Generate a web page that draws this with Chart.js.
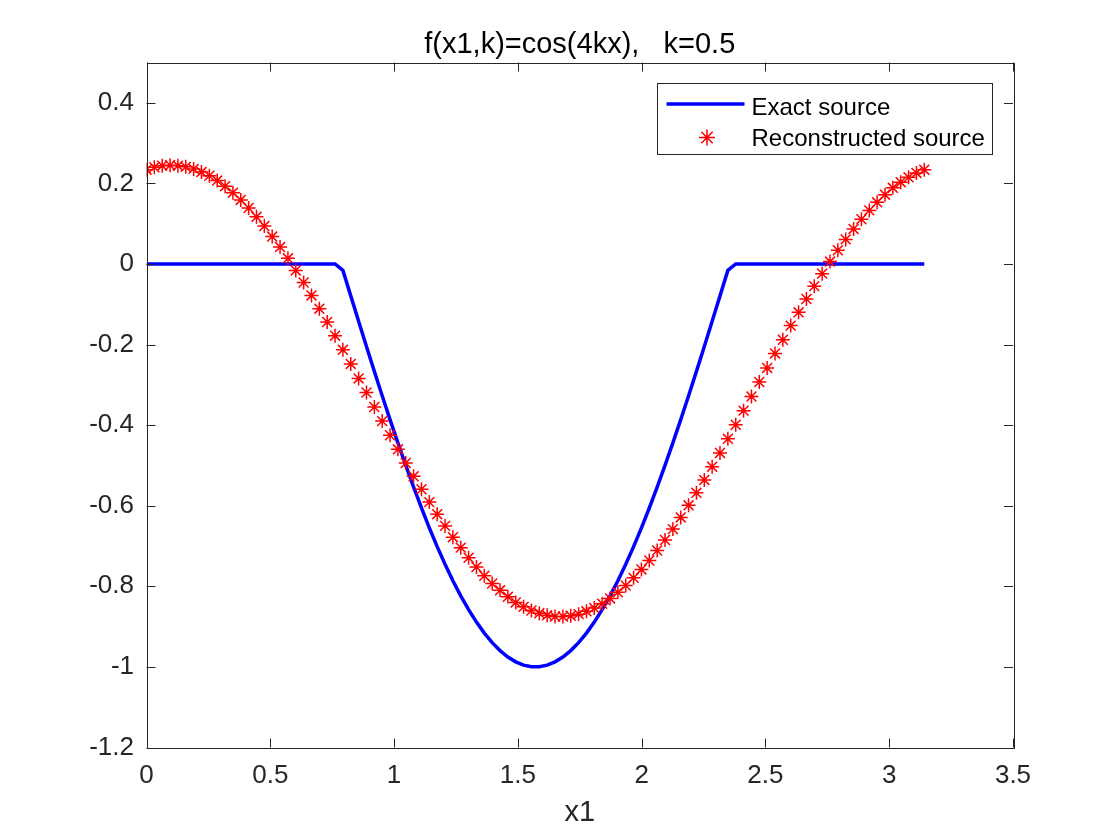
<!DOCTYPE html>
<html>
<head>
<meta charset="utf-8">
<title>f(x1,k)=cos(4kx), k=0.5</title>
<script src="https://cdn.jsdelivr.net/npm/chart.js@4.4.1/dist/chart.umd.min.js"></script>
<style>
  html, body { margin: 0; padding: 0; background: #fff; }
  #wrap { width: 1120px; height: 840px; }
</style>
</head>
<body>
<div id="wrap"><canvas id="myChart" width="1120" height="840"></canvas></div>
<script>
// sample points along x1 (0 .. pi)
var x1 = [
  0, 0.0317, 0.0635, 0.0952, 0.1269, 0.1587, 0.1904, 0.2221, 0.2539, 0.2856,
  0.3173, 0.3491, 0.3808, 0.4125, 0.4443, 0.4760, 0.5077, 0.5395, 0.5712, 0.6029,
  0.6347, 0.6664, 0.6981, 0.7299, 0.7616, 0.7933, 0.8251, 0.8568, 0.8885, 0.9203,
  0.9520, 0.9837, 1.0155, 1.0472, 1.0789, 1.1107, 1.1424, 1.1741, 1.2059, 1.2376,
  1.2693, 1.3011, 1.3328, 1.3645, 1.3963, 1.4280, 1.4597, 1.4915, 1.5232, 1.5549,
  1.5867, 1.6184, 1.6501, 1.6819, 1.7136, 1.7453, 1.7771, 1.8088, 1.8405, 1.8723,
  1.9040, 1.9357, 1.9675, 1.9992, 2.0309, 2.0627, 2.0944, 2.1261, 2.1579, 2.1896,
  2.2213, 2.2531, 2.2848, 2.3165, 2.3483, 2.3800, 2.4117, 2.4435, 2.4752, 2.5069,
  2.5387, 2.5704, 2.6021, 2.6339, 2.6656, 2.6973, 2.7291, 2.7608, 2.7925, 2.8243,
  2.8560, 2.8877, 2.9195, 2.9512, 2.9829, 3.0147, 3.0464, 3.0781, 3.1099, 3.1416
];

var exactSource = [
  0, 0, 0, 0, 0, 0, 0, 0, 0, 0,
  0, 0, 0, 0, 0, 0, 0, 0, 0, 0,
  0, 0, 0, 0, 0, -0.0159, -0.0792, -0.1423, -0.2048, -0.2665,
  -0.3271, -0.3863, -0.4441, -0.5, -0.5539, -0.6056, -0.6549, -0.7015, -0.7453, -0.7861,
  -0.8237, -0.858, -0.8888, -0.9161, -0.9397, -0.9595, -0.9754, -0.9874, -0.9955, -0.9995,
  -0.9995, -0.9955, -0.9874, -0.9754, -0.9595, -0.9397, -0.9161, -0.8888, -0.858, -0.8237,
  -0.7861, -0.7453, -0.7015, -0.6549, -0.6056, -0.5539, -0.5, -0.4441, -0.3863, -0.3271,
  -0.2665, -0.2048, -0.1423, -0.0792, -0.0159, 0, 0, 0, 0, 0,
  0, 0, 0, 0, 0, 0, 0, 0, 0, 0,
  0, 0, 0, 0, 0, 0, 0, 0, 0, 0
];

var reconSource = [
  0.234, 0.240, 0.244, 0.245, 0.244, 0.241, 0.236, 0.228, 0.219, 0.207,
  0.193, 0.177, 0.159, 0.139, 0.117, 0.094, 0.068, 0.042, 0.014, -0.016,
  -0.046, -0.078, -0.111, -0.144, -0.178, -0.213, -0.248, -0.284, -0.319, -0.355,
  -0.390, -0.425, -0.460, -0.494, -0.527, -0.559, -0.591, -0.621, -0.650, -0.678,
  -0.704, -0.729, -0.752, -0.774, -0.793, -0.810, -0.826, -0.840, -0.851, -0.860,
  -0.867, -0.872, -0.875, -0.875, -0.873, -0.869, -0.862, -0.854, -0.843, -0.830,
  -0.815, -0.798, -0.779, -0.758, -0.736, -0.711, -0.685, -0.658, -0.629, -0.599,
  -0.568, -0.536, -0.503, -0.469, -0.434, -0.399, -0.364, -0.329, -0.293, -0.258,
  -0.222, -0.188, -0.153, -0.120, -0.087, -0.055, -0.024, 0.006, 0.034, 0.061,
  0.087, 0.111, 0.133, 0.153, 0.172, 0.189, 0.203, 0.215, 0.226, 0.234
];

var xTicks = [0, 0.5, 1, 1.5, 2, 2.5, 3, 3.5];
var yTicks = [-1.2, -1, -0.8, -0.6, -0.4, -0.2, 0, 0.2, 0.4];
var titleText = 'f(x1,k)=cos(4kx),   k=0.5';
var xLabel = 'x1';
var legendLabels = ['Exact source', 'Reconstructed source'];

var axisColor = '#262626';
var fontFam = "'Liberation Sans', Arial, Helvetica, sans-serif";

function fmtTick(v) {
  return String(Number(v.toFixed(2)));
}

function drawStar(ctx, x, y, r) {
  var d = r * Math.SQRT1_2;
  ctx.beginPath();
  ctx.moveTo(x - r, y); ctx.lineTo(x + r, y);
  ctx.moveTo(x, y - r); ctx.lineTo(x, y + r);
  ctx.moveTo(x - d, y - d); ctx.lineTo(x + d, y + d);
  ctx.moveTo(x - d, y + d); ctx.lineTo(x + d, y - d);
  ctx.stroke();
}

// box, inward ticks, title and legend, matlab style
var matlabAxes = {
  id: 'matlabAxes',
  afterDraw: function(chart) {
    var ctx = chart.ctx;
    var ca = chart.chartArea;
    var xs = chart.scales.x;
    var ys = chart.scales.y;
    var tl = 9;

    ctx.save();
    ctx.strokeStyle = axisColor;
    ctx.lineWidth = 1;

    ctx.beginPath();
    xTicks.forEach(function(v) {
      var px = Math.round(xs.getPixelForValue(v)) + 0.5;
      ctx.moveTo(px, ca.bottom); ctx.lineTo(px, ca.bottom - tl);
      ctx.moveTo(px, ca.top); ctx.lineTo(px, ca.top + tl);
    });
    yTicks.forEach(function(v) {
      var py = Math.round(ys.getPixelForValue(v)) + 0.5;
      ctx.moveTo(ca.left, py); ctx.lineTo(ca.left + tl, py);
      ctx.moveTo(ca.right, py); ctx.lineTo(ca.right - tl, py);
    });
    ctx.stroke();

    ctx.strokeRect(Math.round(ca.left) + 0.5, Math.round(ca.top) + 0.5,
      Math.round(ca.right - ca.left), Math.round(ca.bottom - ca.top));

    // title
    ctx.fillStyle = '#000';
    ctx.font = '29px ' + fontFam;
    ctx.textAlign = 'center';
    ctx.textBaseline = 'alphabetic';
    ctx.fillText(titleText, (ca.left + ca.right) / 2, ca.top - 10);

    // legend
    var lw = 335, lh = 71;
    var lx = Math.round(ca.right - 21 - lw) + 0.5;
    var ly = Math.round(ca.top + 20) + 0.5;
    ctx.fillStyle = '#fff';
    ctx.fillRect(lx, ly, lw, lh);
    ctx.strokeStyle = axisColor;
    ctx.lineWidth = 1;
    ctx.strokeRect(lx, ly, lw, lh);

    ctx.strokeStyle = '#0000ff';
    ctx.lineWidth = 3.5;
    ctx.beginPath();
    ctx.moveTo(lx + 9, ly + 20.5);
    ctx.lineTo(lx + 87, ly + 20.5);
    ctx.stroke();

    ctx.strokeStyle = '#ff0000';
    ctx.lineWidth = 1.5;
    drawStar(ctx, lx + 49.5, ly + 54, 8);

    ctx.fillStyle = '#000';
    ctx.font = '24px ' + fontFam;
    ctx.textAlign = 'left';
    ctx.fillText(legendLabels[0], lx + 94, ly + 31);
    ctx.fillText(legendLabels[1], lx + 94, ly + 62);
    ctx.restore();
  }
};

var exactPts = x1.map(function(x, i) { return {x: x, y: exactSource[i]}; });
var reconPts = x1.map(function(x, i) { return {x: x, y: reconSource[i]}; });

var ctx = document.getElementById('myChart').getContext('2d');
var myChart = new Chart(ctx, {
  type: 'scatter',
  data: {
    datasets: [{
      label: legendLabels[1],
      data: reconPts,
      showLine: false,
      pointStyle: 'star',
      pointRadius: 7,
      pointHoverRadius: 7,
      pointBorderWidth: 1.5,
      pointBorderColor: '#ff0000',
      pointBackgroundColor: 'rgba(0,0,0,0)',
      order: 0
    }, {
      label: legendLabels[0],
      data: exactPts,
      showLine: true,
      borderColor: '#0000ff',
      borderWidth: 3.5,
      pointRadius: 0,
      pointHoverRadius: 0,
      tension: 0,
      fill: false,
      order: 1
    }]
  },
  options: {
    responsive: false,
    animation: false,
    devicePixelRatio: 1,
    layout: { padding: { left: 0, top: 62.5, right: 107, bottom: 12.5 } },
    plugins: {
      legend: { display: false },
      title: { display: false },
      tooltip: { enabled: false }
    },
    scales: {
      x: {
        type: 'linear',
        min: 0,
        max: 3.5,
        afterBuildTicks: function(s) { s.ticks = xTicks.map(function(v) { return {value: v}; }); },
        afterFit: function(s) { s.height = 80; },
        grid: { display: false, drawTicks: false },
        border: { display: false },
        ticks: {
          autoSkip: false,
          maxRotation: 0,
          padding: 13,
          color: axisColor,
          font: { family: fontFam, size: 26 },
          callback: function(v) { return fmtTick(v); }
        },
        title: {
          display: true,
          text: xLabel,
          color: axisColor,
          padding: 0,
          font: { family: fontFam, size: 29, lineHeight: 1 }
        }
      },
      y: {
        type: 'linear',
        min: -1.2,
        max: 0.5,
        afterBuildTicks: function(s) { s.ticks = yTicks.map(function(v) { return {value: v}; }); },
        afterFit: function(s) { s.width = 146.5; },
        grid: { display: false, drawTicks: false },
        border: { display: false },
        ticks: {
          autoSkip: false,
          padding: 12.5,
          color: axisColor,
          font: { family: fontFam, size: 26 },
          callback: function(v) { return fmtTick(v); }
        }
      }
    }
  },
  plugins: [matlabAxes]
});
</script>
</body>
</html>
